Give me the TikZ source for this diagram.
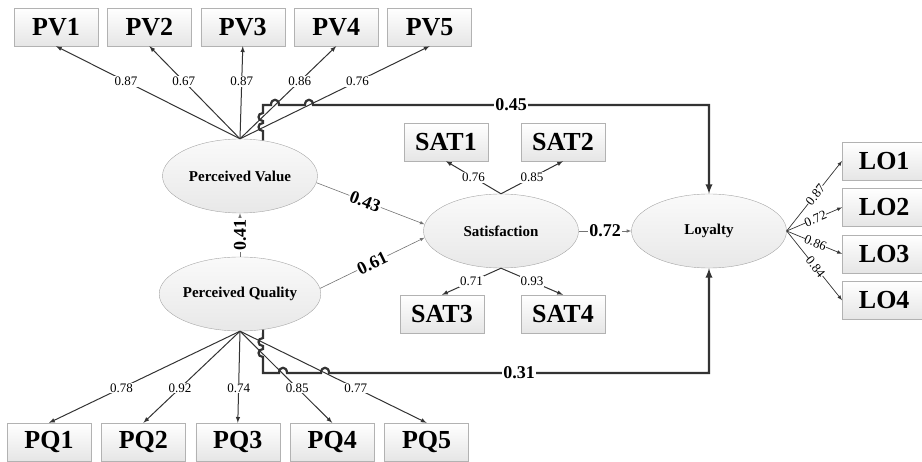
\documentclass[tikz,border=0pt]{standalone}
\usepackage{fontspec}
\setmainfont{Liberation Serif}
\usetikzlibrary{shapes, arrows, positioning}

\begin{document}
\begin{tikzpicture}[
        x = 1pt, y = -1pt,
        node distance = 9pt,
        item/.style = {rectangle, draw=gray!60, top color=white, bottom color=gray!20,
            minimum width=84pt, minimum height=38pt, inner sep=0pt,
            font=\fontsize{26}{26}\selectfont\bfseries},
        latent/.style = {ellipse, draw=gray!70, top color=gray!4, bottom color=gray!18,
            minimum width=155pt, minimum height=74pt, inner sep=0pt,
            font=\fontsize{15}{15}\selectfont\bfseries},
        line/.style = {draw, -latex, black!80, line width=1pt},
        effect/.style = {draw, -latex, black!55, line width=0.6pt},
        direct/.style = {draw, -latex, black!80, line width=2.2pt},
        load/.style = {fill=white, inner sep=1pt, text=black, font=\fontsize{13}{13}\selectfont},
        coef/.style = {fill=white, inner sep=1pt, text=black, font=\fontsize{18}{18}\selectfont\bfseries}
    ]
    \useasboundingbox (0,0) rectangle (922,462);

    % Latent variables
    \node[latent] (value) at (240,176) {Perceived Value};
    \node[latent] (quality) at (240,294) {Perceived Quality};
    \node[latent] (satisfaction) at (501,231) {Satisfaction};
    \node[latent] (loyalty) at (709,231) {Loyalty};

    % Indicators
    \node[item] (pv1) at (56,27) {PV1};
    \node[item] (pv2) [right=of pv1] {PV2};
    \node[item] (pv3) [right=of pv2] {PV3};
    \node[item] (pv4) [right=of pv3] {PV4};
    \node[item] (pv5) [right=of pv4] {PV5};

    \node[item] (pq1) at (49,442) {PQ1};
    \node[item] (pq2) [right=10pt of pq1] {PQ2};
    \node[item] (pq3) [right=10pt of pq2] {PQ3};
    \node[item] (pq4) [right=10pt of pq3] {PQ4};
    \node[item] (pq5) [right=10pt of pq4] {PQ5};

    \node[item] (sat1) at (446,142) {SAT1};
    \node[item] (sat2) at (563,142) {SAT2};
    \node[item] (sat3) at (442,314) {SAT3};
    \node[item] (sat4) at (563,314) {SAT4};

    \node[item, anchor=west] (lo1) at (842,161) {LO1};
    \node[item] (lo2) [below=8pt of lo1] {LO2};
    \node[item] (lo3) [below=8pt of lo2] {LO3};
    \node[item] (lo4) [below=8pt of lo3] {LO4};

    % Loadings
    \path [line] (value.north) -- node[load, pos=0.62] (wpv1) {0.87} (pv1.south);
    \path [line] (value.north) -- node[load, pos=0.62] (wpv2) {0.67} (pv2.south);
    \path [line] (value.north) -- node[load, pos=0.62] (wpv3) {0.87} (pv3.south);
    \path [line] (value.north) -- node[load, pos=0.62] (wpv4) {0.86} (pv4.south);
    \path [line] (value.north) -- node[load, pos=0.62] (wpv5) {0.76} (pv5.south);

    \path [line] (quality.south) -- node[load, pos=0.62] (wpq1) {0.78} (pq1.north);
    \path [line] (quality.south) -- node[load, pos=0.62] (wpq2) {0.92} (pq2.north);
    \path [line] (quality.south) -- node[load, pos=0.62] (wpq3) {0.74} (pq3.north);
    \path [line] (quality.south) -- node[load, pos=0.62] (wpq4) {0.85} (pq4.north);
    \path [line] (quality.south) -- node[load, pos=0.62] (wpq5) {0.77} (pq5.north);

    \path [line] (satisfaction.north) -- node[load] (wsat1) {0.76} (sat1.south);
    \path [line] (satisfaction.north) -- node[load] (wsat2) {0.85} (sat2.south);
    \path [line] (satisfaction.south) -- node[load] (wsat3) {0.71} (sat3.north);
    \path [line] (satisfaction.south) -- node[load] (wsat4) {0.93} (sat4.north);

    \path [line, line width=0.7pt] (loyalty.east) -- node[load, sloped, inner sep=0pt, pos=0.52] (wlo1) {0.87} (lo1.west);
    \path [line, line width=0.7pt] (loyalty.east) -- node[load, sloped, inner sep=0pt, pos=0.52] (wlo2) {0.72} (lo2.west);
    \path [line, line width=0.7pt] (loyalty.east) -- node[load, sloped, inner sep=0pt, pos=0.52] (wlo3) {0.86} (lo3.west);
    \path [line, line width=0.7pt] (loyalty.east) -- node[load, sloped, inner sep=0pt, pos=0.52] (wlo4) {0.84} (lo4.west);

    % Structural paths
    \path [effect] (value.-5) -- node[coef, sloped, pos=0.45] (c43) {0.43} (satisfaction.175);
    \path [effect] (quality.4) -- node[coef, sloped] (c61) {0.61} (satisfaction.185);
    \path [effect] (quality.north) -- node[coef, rotate=90] (c41) {0.41} (value.south);
    \path [effect] (satisfaction.east) -- node[coef] (c72) {0.72} (loyalty.west);

    % Direct paths to loyalty, hopping over the loadings
    \path [direct] (value.57) -- (263,131)
        .. controls (257,131) and (257,123) .. (263,123) -- (263,121)
        .. controls (257,121) and (257,113) .. (263,113) -- (263,105) -- (271,105)
        .. controls (271,98) and (279,98) .. (279,105) -- (305,105)
        .. controls (305,98) and (313,98) .. (313,105)
        -| node[coef, pos=0.25] (c45) {0.45} (loyalty.north);
    \path [direct] (quality.-57) -- (263,338)
        .. controls (257,338) and (257,346) .. (263,346) -- (263,349)
        .. controls (257,349) and (257,357) .. (263,357) -- (263,373) -- (279,373)
        .. controls (279,366) and (287,366) .. (287,373) -- (321,373)
        .. controls (321,366) and (329,366) .. (329,373)
        -| node[coef, pos=0.25] (c31) {0.31} (loyalty.south);

\end{tikzpicture}
\end{document}
